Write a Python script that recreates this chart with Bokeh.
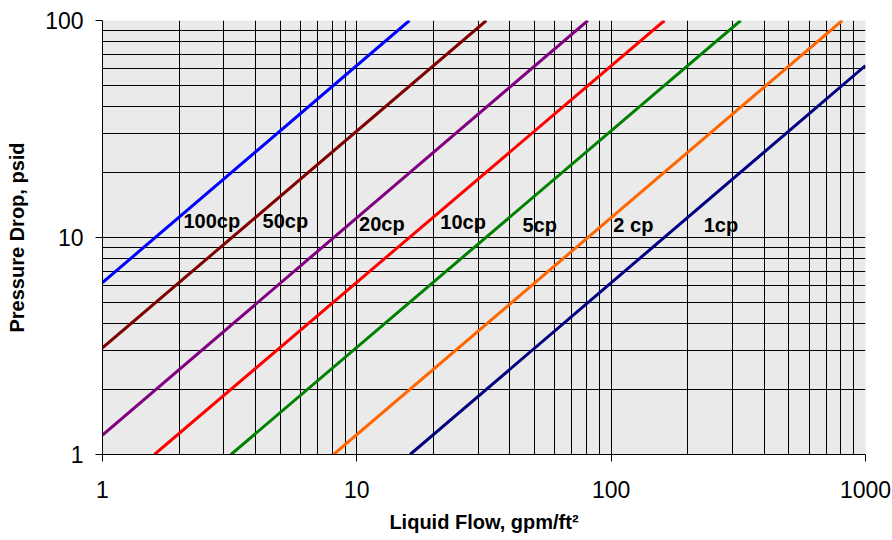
from bokeh.plotting import figure
from bokeh.models import Range1d, FixedTicker, PrintfTickFormatter
from bokeh.core.properties import value
from bokeh.embed import file_html
from bokeh.resources import INLINE

# Data (each line is straight in log-log space)
series_names = ["100cp", "50cp", "20cp", "10cp", "5cp", "2cp", "1cp"]
x_100cp = [1.0, 16.1]
y_100cp = [6.2, 100.0]
x_50cp = [1.0, 32.3]
y_50cp = [3.1, 100.0]
x_20cp = [1.0, 81.0]
y_20cp = [1.23, 100.0]
x_10cp = [1.6, 162.0]
y_10cp = [1.0, 100.0]
x_5cp = [3.2, 323.0]
y_5cp = [1.0, 100.0]
x_2cp = [8.1, 810.0]
y_2cp = [1.0, 100.0]
x_1cp = [16.2, 1000.0]
y_1cp = [1.0, 62.0]

label_texts = ["100cp", "50cp", "20cp", "10cp", "5cp", "2 cp", "1cp"]
label_x = [2.08, 4.26, 10.2, 21.3, 44.8, 102.0, 231.0]
label_y = [11.9, 11.9, 11.6, 11.8, 11.4, 11.4, 11.4]

x_ticks = [1, 10, 100, 1000]
y_ticks = [1, 10, 100]
x_minor = [m * d for d in [1, 10, 100] for m in range(2, 10)]
y_minor = [m * d for d in [1, 10] for m in range(2, 10)]

colors = ["#0000FF", "#800000", "#800080", "#FF0000", "#008000", "#FF6600", "#000080"]
xs = [x_100cp, x_50cp, x_20cp, x_10cp, x_5cp, x_2cp, x_1cp]
ys = [y_100cp, y_50cp, y_20cp, y_10cp, y_5cp, y_2cp, y_1cp]

FONT = "Liberation Sans"

p = figure(frame_width=763, frame_height=434, x_axis_type="log", y_axis_type="log",
           x_range=Range1d(1, 1000), y_range=Range1d(1, 100),
           output_backend="svg", toolbar_location=None,
           min_border_left=102, min_border_right=27, min_border_top=20, min_border_bottom=86)

p.background_fill_color = "#EAEAEA"
p.border_fill_color = "white"
p.outline_line_color = None

for ax, ticks, minor in [(p.xaxis, x_ticks, x_minor), (p.yaxis, y_ticks, y_minor)]:
    ax.ticker = FixedTicker(ticks=ticks, minor_ticks=minor)
    ax.formatter = PrintfTickFormatter(format="%d")
    ax.major_tick_out = 7
    ax.major_tick_in = 0
    ax.minor_tick_out = 0
    ax.minor_tick_in = 0
    ax.axis_line_color = "black"
    ax.major_tick_line_color = "black"
    ax.major_label_text_font = FONT
    ax.major_label_text_font_size = "23px"
    ax.major_label_text_color = "black"
    ax.axis_label_text_font = FONT
    ax.axis_label_text_font_size = "20px"
    ax.axis_label_text_font_style = "bold"
    ax.axis_label_text_color = "black"

p.xaxis.axis_label = "Liquid Flow, gpm/ft²"
p.yaxis.axis_label = "Pressure Drop, psid"
p.xaxis.major_label_standoff = 19
p.yaxis.major_label_standoff = 12
p.xaxis.axis_label_standoff = 10
p.yaxis.axis_label_standoff = 14

for g in [p.xgrid, p.ygrid]:
    g.grid_line_color = "black"
    g.grid_line_width = 1
    g.minor_grid_line_color = "black"
    g.minor_grid_line_width = 1

for x, y, c in zip(xs, ys, colors):
    p.line(x, y, line_color=c, line_width=3)

p.text(x=label_x, y=label_y, text=label_texts, text_font=value(FONT),
       text_font_size="20px", text_font_style="bold", text_color="black",
       text_align="left", text_baseline="middle")

open("out.html", "w").write(file_html(p, INLINE))
